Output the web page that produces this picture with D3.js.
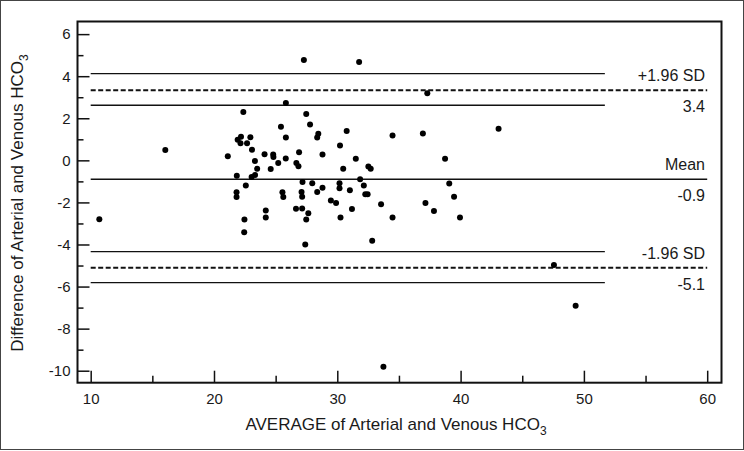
<!DOCTYPE html>
<html>
<head>
<meta charset="utf-8">
<script src="https://cdn.jsdelivr.net/npm/d3@7"></script>
<style>
  body { margin: 0; background: #fff; }
  text { font-family: "Liberation Sans", Arial, sans-serif; fill: #1a1a1a; }
</style>
</head>
<body>
<div id="canvas"></div>
<script>
// average of arterial and venous HCO3 (x) and their difference (y)
const avgVals = [10.7, 16.05, 21.12, 21.85, 21.83, 21.83, 21.92, 22.19, 22.38, 22.15,
  22.68, 22.95, 23.08, 23.32, 23.5, 23.05, 23.33, 22.58, 22.47, 22.45,
  24.1, 24.6, 24.2, 24.2, 24.8, 24.82, 25.21, 25.43, 25.83, 25.83,
  25.82, 25.55, 25.62, 26.9, 26.68, 26.85, 27.18, 27.1, 27.15, 26.65,
  27.15, 27.48, 27.65, 27.4, 27.29, 27.48, 27.79, 27.97, 28.37, 28.46,
  28.8, 28.37, 28.8, 29.48, 29.9, 30.22, 30.18, 30.18, 30.26, 30.76,
  30.48, 31.02, 31.19, 31.5, 31.77, 31.85, 32.15, 32.27, 32.46, 32.52,
  32.71, 32.83, 33.55, 33.74, 34.48, 34.48, 36.94, 37.15, 37.3, 37.84,
  38.74, 39.08, 39.47, 39.95, 43.08, 47.57, 49.33];
const diffVals = [-2.8, 0.49, 0.19, -0.73, -1.52, -1.74, 0.98, 1.12, 2.3, 0.81,
  0.81, 1.1, 0.5, -0.03, -0.4, -0.79, -0.7, -1.2, -2.81, -3.42,
  0.29, -0.41, -2.38, -2.72, 0.28, 0.16, -0.13, 1.6, 2.72, 1.08,
  0.09, -1.52, -1.74, 0.38, -0.13, -0.28, -1.03, -1.5, -1.73, -2.3,
  -2.29, -2.81, -2.52, -4.0, 4.77, 2.2, 1.7, -1.09, 1.08, 1.27,
  0.28, -1.5, -1.3, -1.91, -2.03, 0.7, -1.09, -1.33, -2.72, 1.4,
  -0.4, -1.42, -2.31, 0.08, 4.67, -0.9, -1.2, -1.61, -1.61, -0.29,
  -0.4, -3.82, -2.09, -9.81, 1.18, -2.72, 1.28, -2.03, 3.19, -2.41,
  0.07, -1.1, -1.73, -2.72, 1.5, -4.97, -6.91];

const xTicks = [10, 20, 30, 40, 50, 60];
const xMinor = [15, 25, 35, 45, 55];
const yTicks = [6, 4, 2, 0, -2, -4, -6, -8, -10];
const yMinor = [5, 3, 1, -1, -3, -5, -7, -9];

// mean and limits of agreement with their confidence bounds
const meanDiff = -0.9;
const upperLoA = 3.33;
const lowerLoA = -5.1;
const upperCI = [4.12, 2.62];
const lowerCI = [-4.34, -5.81];
const ciEnd = 51.7;
const annotations = [
  { text: "+1.96 SD", at: upperLoA, pos: "above" },
  { text: "3.4", at: upperLoA, pos: "below" },
  { text: "Mean", at: meanDiff, pos: "above" },
  { text: "-0.9", at: meanDiff, pos: "below" },
  { text: "-1.96 SD", at: lowerLoA, pos: "above" },
  { text: "-5.1", at: lowerLoA, pos: "below" }
];

const width = 744, height = 451;
const svg = d3.select("#canvas").append("svg")
  .attr("width", width)
  .attr("height", height);

// outer border of the figure
svg.append("rect")
  .attr("x", 0.5).attr("y", 0.5)
  .attr("width", width - 1).attr("height", height - 2)
  .attr("fill", "none").attr("stroke", "#444").attr("stroke-width", 1);

const frame = { left: 77.5, top: 21.5, right: 721.5, bottom: 382.7 };

const x = d3.scaleLinear()
  .domain([8.93, 61.16])
  .range([frame.left, frame.right]);
const y = d3.scaleLinear()
  .domain([-10.57, 6.6])
  .range([frame.bottom, frame.top]);

const plain = d => String(d); // keep the ascii hyphen for negatives

// axes: ticks point inward from the frame
const xAxis = svg.append("g")
  .attr("transform", `translate(0,${frame.bottom})`)
  .call(d3.axisBottom(x).tickValues(xTicks).tickSize(-12).tickPadding(11).tickFormat(plain));
const xAxisMinor = svg.append("g")
  .attr("transform", `translate(0,${frame.bottom})`)
  .call(d3.axisBottom(x).tickValues(xMinor).tickSize(-7).tickFormat(""));
const yAxis = svg.append("g")
  .attr("transform", `translate(${frame.left},0)`)
  .call(d3.axisLeft(y).tickValues(yTicks).tickSize(-12).tickPadding(7).tickFormat(plain));
const yAxisMinor = svg.append("g")
  .attr("transform", `translate(${frame.left},0)`)
  .call(d3.axisLeft(y).tickValues(yMinor).tickSize(-6).tickFormat(""));

[xAxis, xAxisMinor, yAxis, yAxisMinor].forEach(g => {
  g.select(".domain").remove();
  g.selectAll("line").attr("stroke", "#111").attr("stroke-width", 1.5);
  g.selectAll("text").attr("font-size", 15).attr("fill", "#1a1a1a")
    .attr("font-family", "'Liberation Sans', Arial, sans-serif");
});

svg.append("rect")
  .attr("x", frame.left).attr("y", frame.top)
  .attr("width", frame.right - frame.left).attr("height", frame.bottom - frame.top)
  .attr("fill", "none").attr("stroke", "#111").attr("stroke-width", 2);

// reference lines
const lines = svg.append("g").attr("stroke", "#111").attr("fill", "none");
lines.append("line")
  .attr("x1", x(10)).attr("x2", x(60))
  .attr("y1", y(meanDiff)).attr("y2", y(meanDiff))
  .attr("stroke-width", 1.6);
[upperLoA, lowerLoA].forEach(v => {
  lines.append("line")
    .attr("x1", x(10)).attr("x2", x(60))
    .attr("y1", y(v)).attr("y2", y(v))
    .attr("stroke-width", 2)
    .attr("stroke-dasharray", "5,2.5");
});
upperCI.concat(lowerCI).forEach(v => {
  lines.append("line")
    .attr("x1", x(10)).attr("x2", x(ciEnd))
    .attr("y1", y(v)).attr("y2", y(v))
    .attr("stroke-width", 1.3);
});

// labels on the right
svg.append("g").selectAll("text")
  .data(annotations)
  .enter().append("text")
  .attr("x", 705)
  .attr("y", d => d.pos === "above" ? y(d.at) - 9 : y(d.at) + 22)
  .attr("text-anchor", "end")
  .attr("font-size", 16)
  .text(d => d.text);

// points
svg.append("g").selectAll("circle")
  .data(avgVals.map((a, i) => [a, diffVals[i]]))
  .enter().append("circle")
  .attr("cx", d => x(d[0]))
  .attr("cy", d => y(d[1]))
  .attr("r", 3)
  .attr("fill", "#000");

// axis titles
const xTitle = svg.append("text")
  .attr("x", 396).attr("y", 430)
  .attr("text-anchor", "middle")
  .attr("font-size", 17);
xTitle.append("tspan").text("AVERAGE of Arterial and Venous HCO");
xTitle.append("tspan").attr("font-size", 12).attr("dy", 5).text("3");

const yTitle = svg.append("text")
  .attr("transform", "translate(23,203) rotate(-90)")
  .attr("text-anchor", "middle")
  .attr("font-size", 17);
yTitle.append("tspan").text("Difference of Arterial and Venous HCO");
yTitle.append("tspan").attr("font-size", 12).attr("dy", 5).text("3");
</script>
</body>
</html>
